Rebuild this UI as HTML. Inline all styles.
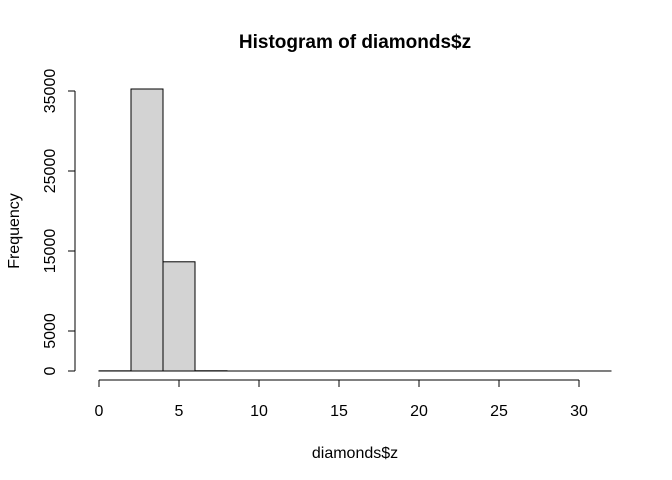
<!DOCTYPE html>
<html><head><meta charset="utf-8"><style>
body{margin:0;background:#fff}
svg{display:block;font-family:"Liberation Sans",Arial,sans-serif}
</style></head><body>
<svg id="c" width="672" height="480"></svg>
<script>
const binEdges=[0,2,4,6,8,10,12,14,16,18,20,22,24,26,28,30,32];
const counts=[20,35250,13650,30,0,0,0,0,0,0,0,0,0,0,0,1];
const xTicks=[0,5,10,15,20,25,30];
const yTicks=[0,5000,15000,25000,35000];
const NS="http://www.w3.org/2000/svg";
const svg=document.getElementById('c');
const X=v=>99+v*16;
const Y=v=>371-v*0.008;
function el(t,a,txt){const e=document.createElementNS(NS,t);for(const k in a)e.setAttribute(k,a[k]);if(txt!=null)e.textContent=txt;svg.appendChild(e);return e;}
let t=el('text',{x:355,y:48,'text-anchor':'middle','font-size':19,'font-weight':'bold'},'Histogram of diamonds$z');


let base=el('line',{x1:X(binEdges[0]),x2:X(binEdges[binEdges.length-1]),y1:Y(0),y2:Y(0),stroke:'#000'});


for(let i=0;i<counts.length;i++){
 const r=el('rect',{x:X(binEdges[i]),y:Y(counts[i]),width:X(binEdges[i+1])-X(binEdges[i]),height:Y(0)-Y(counts[i]),fill:'#d3d3d3',stroke:'#000','stroke-width':1});
 
 
}
let ax=el('line',{x1:X(xTicks[0]),x2:X(xTicks[xTicks.length-1]),y1:380,y2:380,stroke:'#000'});


xTicks.forEach(v=>{
 el('line',{x1:X(v),x2:X(v),y1:380,y2:387,stroke:'#000'});
 const l=el('text',{x:X(v),y:416,'text-anchor':'middle','font-size':16},v);
 
 
});
let ay=el('line',{x1:75,x2:75,y1:Y(yTicks[0]),y2:Y(yTicks[yTicks.length-1]),stroke:'#000'});


yTicks.forEach(v=>{
 el('line',{x1:68,x2:75,y1:Y(v),y2:Y(v),stroke:'#000'});
 const l=el('text',{x:0,y:0,'text-anchor':'middle','font-size':16,transform:`translate(55,${Y(v)}) rotate(-90)`},v);
 
 
});
let xl=el('text',{x:355,y:458,'text-anchor':'middle','font-size':16},'diamonds$z');


let yl=el('text',{x:0,y:0,'text-anchor':'middle','font-size':16,transform:'translate(19,231) rotate(-90)'},'Frequency');


</script>
</body></html>
